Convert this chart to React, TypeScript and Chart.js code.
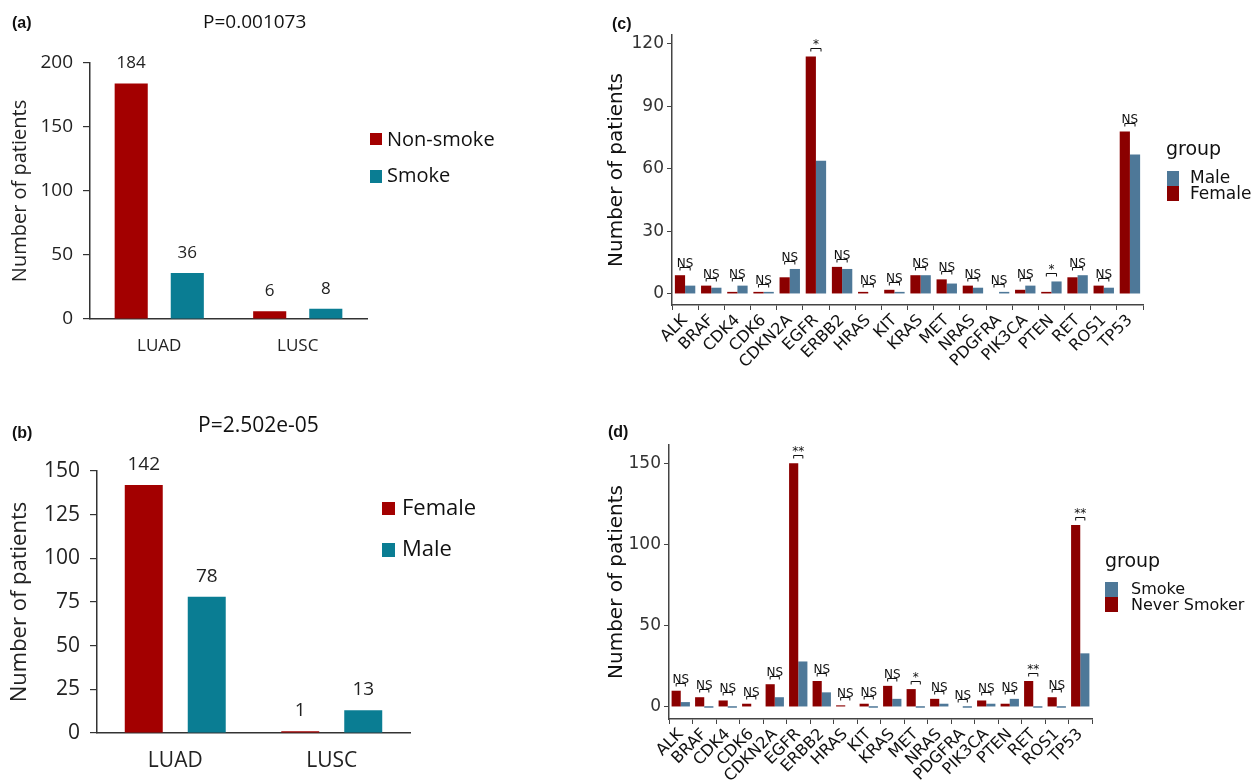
import React, { useEffect, useRef } from "react";
import { Chart, registerables } from "chart.js";
Chart.register(...registerables);

// ---------- data ----------
const histCategories = ["LUAD", "LUSC"];
const nonSmoke = [184, 6];
const smoke = [36, 8];
const female = [142, 1];
const male = [78, 13];
const titleA = "P=0.001073";
const titleB = "P=2.502e-05";

const genes = ["ALK", "BRAF", "CDK4", "CDK6", "CDKN2A", "EGFR", "ERBB2", "HRAS", "KIT", "KRAS", "MET", "NRAS", "PDGFRA", "PIK3CA", "PTEN", "RET", "ROS1", "TP53"];
const femaleGene = [9, 4, 1, 1, 8, 114, 13, 1, 2, 9, 7, 4, null, 2, 1, 8, 4, 78];
const maleGene = [4, 3, 4, 1, 12, 64, 12, null, 1, 9, 5, 3, 1, 4, 6, 9, 3, 67];
const sigC = ["NS", "NS", "NS", "NS", "NS", "*", "NS", "NS", "NS", "NS", "NS", "NS", "NS", "NS", "*", "NS", "NS", "NS"];
const neverSmokerGene = [10, 6, 4, 2, 14, 150, 16, 1, 2, 13, 11, 5, null, 4, 2, 16, 6, 112];
const smokeGene = [3, 0, 0, null, 6, 28, 9, null, 0, 5, 0, 2, 0, 2, 5, 0, 0, 33];
const sigD = ["NS", "NS", "NS", "NS", "NS", "**", "NS", "NS", "NS", "NS", "*", "NS", "NS", "NS", "NS", "**", "NS", "**"];
const ticksC = [0, 30, 60, 90, 120];
const ticksD = [0, 50, 100, 150];

// ---------- styles ----------
const RED_AB = "#A30000";
const TEAL_AB = "#0A7D93";
const RED_CD = "#8B0000";
const BLUE_CD = "#4E7898";
const SANS_AB = "'Open Sans', sans-serif";
const SANS_CD = "'DejaVu Sans', sans-serif";

const valueLabelPlugin = {
  id: "valueLabels",
  afterDatasetsDraw(chart: any, _a: any, opts: any) {
    const ctx = chart.ctx;
    ctx.save();
    ctx.fillStyle = "#222";
    ctx.font = `${opts.size}px ${SANS_AB}`;
    ctx.textAlign = "center";
    ctx.textBaseline = "alphabetic";
    chart.data.datasets.forEach((ds: any, di: number) => {
      const meta = chart.getDatasetMeta(di);
      meta.data.forEach((bar: any, i: number) => {
        ctx.fillText(String(ds.data[i]), bar.x, bar.y - opts.offset);
      });
    });
    ctx.restore();
  },
};

const sigPlugin = {
  id: "sig",
  afterDatasetsDraw(chart: any, _a: any, opts: any) {
    const ctx = chart.ctx;
    const y = chart.scales.y;
    const m0 = chart.getDatasetMeta(0);
    const m1 = chart.getDatasetMeta(1);
    ctx.save();
    ctx.strokeStyle = "#111";
    ctx.fillStyle = "#111";
    ctx.lineWidth = 1;
    ctx.font = `${opts.size}px ${SANS_CD}`;
    ctx.textAlign = "center";
    ctx.textBaseline = "alphabetic";
    (opts.labels as string[]).forEach((lab, i) => {
      const v0 = chart.data.datasets[0].data[i] ?? 0;
      const v1 = chart.data.datasets[1].data[i] ?? 0;
      const top = y.getPixelForValue(Math.max(v0, v1));
      const x0 = m0.data[i].x;
      const x1 = m1.data[i].x;
      const by = Math.round(top - opts.gap) + 0.5;
      ctx.beginPath();
      ctx.moveTo(x0, by + 3);
      ctx.lineTo(x0, by);
      ctx.lineTo(x1, by);
      ctx.lineTo(x1, by + 3);
      ctx.stroke();
      ctx.fillText(lab, (x0 + x1) / 2, by - 1);
    });
    ctx.restore();
  },
};

function abConfig(
  labels: string[], d1: number[], d2: number[], n1: string, n2: string,
  o: { top: number; right: number; xH: number; yW: number; max: number; step: number; tick: number; cat: number; title: number; titlePad: number; val: number; xPad: number; catPct: number; barPct: number }
): any {
  return {
    type: "bar",
    data: {
      labels,
      datasets: [
        { label: n1, data: d1, backgroundColor: RED_AB, categoryPercentage: o.catPct, barPercentage: o.barPct },
        { label: n2, data: d2, backgroundColor: TEAL_AB, categoryPercentage: o.catPct, barPercentage: o.barPct },
      ],
    },
    options: {
      responsive: false,
      animation: false,
      events: [],
      layout: { padding: { left: 0, top: o.top, right: o.right, bottom: 0 } },
      plugins: { legend: { display: false }, tooltip: { enabled: false }, valueLabels: { size: o.val, offset: 15 } },
      scales: {
        x: {
          grid: { display: false },
          border: { color: "#333", width: 1.5 },
          ticks: { color: "#222", font: { family: SANS_AB, size: o.cat }, padding: o.xPad },
          afterFit: (s: any) => { s.height = o.xH; },
        },
        y: {
          min: 0,
          max: o.max,
          ticks: { stepSize: o.step, color: "#222", font: { family: SANS_AB, size: o.tick }, padding: 10 },
          grid: { drawOnChartArea: false, tickLength: 7, color: "#333", lineWidth: 1.2 },
          border: { color: "#333", width: 1.5 },
          title: { display: true, text: "Number of patients", color: "#222", font: { family: SANS_AB, size: o.title }, padding: { top: o.titlePad, bottom: 0 } },
          afterFit: (s: any) => { s.width = o.yW; },
        },
      },
    },
    plugins: [valueLabelPlugin],
  };
}

function cdConfig(
  d1: (number | null)[], d2: (number | null)[], n1: string, n2: string, sig: string[], tickVals: number[],
  o: { top: number; right: number; xH: number; yW: number; min: number; max: number; minBar: number }
): any {
  return {
    type: "bar",
    data: {
      labels: genes,
      datasets: [
        { label: n1, data: d1, backgroundColor: RED_CD, categoryPercentage: 0.78, barPercentage: 1, minBarLength: o.minBar },
        { label: n2, data: d2, backgroundColor: BLUE_CD, categoryPercentage: 0.78, barPercentage: 1, minBarLength: o.minBar },
      ],
    },
    options: {
      responsive: false,
      animation: false,
      events: [],
      layout: { padding: { left: 0, top: o.top, right: o.right, bottom: 0 } },
      plugins: { legend: { display: false }, tooltip: { enabled: false }, sig: { labels: sig, gap: 8, size: 12 } },
      scales: {
        x: {
          grid: { display: true, drawOnChartArea: false, tickLength: 5, color: "#444", lineWidth: 1 },
          border: { color: "#444", width: 1.5 },
          ticks: { color: "#111", font: { family: SANS_CD, size: 16 }, maxRotation: 45, minRotation: 45, autoSkip: false, padding: 1 },
          afterFit: (s: any) => { s.height = o.xH; },
        },
        y: {
          min: o.min,
          max: o.max,
          afterBuildTicks: (s: any) => { s.ticks = tickVals.map((v) => ({ value: v })); },
          ticks: { color: "#333", font: { family: SANS_CD, size: 17 }, padding: 3 },
          grid: { drawOnChartArea: false, tickLength: 5, color: "#444", lineWidth: 1 },
          border: { color: "#444", width: 1.5 },
          title: { display: true, text: "Number of patients", color: "#111", font: { family: SANS_CD, size: 20 }, padding: { top: 5, bottom: 0 } },
          afterFit: (s: any) => { s.width = o.yW; },
        },
      },
    },
    plugins: [sigPlugin],
  };
}

function ChartCanvas({ left, top, width, height, config }: { left: number; top: number; width: number; height: number; config: () => any }) {
  const ref = useRef<HTMLCanvasElement | null>(null);
  useEffect(() => {
    if (!ref.current) return;
    const chart = new Chart(ref.current, config());
    return () => chart.destroy();
  }, []);
  return (
    <canvas
      ref={ref}
      width={width}
      height={height}
      style={{ position: "absolute", left, top, width, height, display: "block" }}
    />
  );
}

function Txt({ left, top, size, family, bold, children }: any) {
  return (
    <div style={{ position: "absolute", left, top, fontSize: size, fontFamily: family, fontWeight: bold ? 700 : 400, lineHeight: 1, whiteSpace: "nowrap", color: "#111" }}>
      {children}
    </div>
  );
}

function Sq({ left, top, w, h, color }: any) {
  return <div style={{ position: "absolute", left, top, width: w, height: h, background: color }} />;
}

export default function App() {
  return (
    <div style={{ position: "fixed", left: 0, top: 0, width: 1259, height: 783, background: "#fff", overflow: "hidden" }}>
      <ChartCanvas left={0} top={0} width={600} height={390}
        config={() => abConfig(histCategories, nonSmoke, smoke, "Non-smoke", "Smoke",
          { top: 63, right: 233, xH: 71, yW: 90, max: 200, step: 50, tick: 19, cat: 17, title: 20, titlePad: 8, val: 17, xPad: 9, catPct: 0.81, barPct: 0.59 })} />
      <ChartCanvas left={0} top={390} width={600} height={393}
        config={() => abConfig(histCategories, female, male, "Female", "Male",
          { top: 81, right: 190, xH: 50, yW: 97, max: 150, step: 25, tick: 21, cat: 21, title: 22, titlePad: 7, val: 19, xPad: 7, catPct: 0.805, barPct: 0.603 })} />
      <ChartCanvas left={600} top={0} width={659} height={390}
        config={() => cdConfig(femaleGene, maleGene, "Female", "Male", sigC, ticksC,
          { top: 35, right: 116, xH: 85, yW: 72, min: -5.3, max: 124.3, minBar: 0 })} />
      <ChartCanvas left={600} top={390} width={659} height={393}
        config={() => cdConfig(neverSmokerGene, smokeGene, "Never Smoker", "Smoke", sigD, ticksD,
          { top: 55, right: 167, xH: 64, yW: 69, min: -7.4, max: 161.2, minBar: 1.5 })} />

      {/* panel labels */}
      <Txt left={12} top={15} size={16} family="'Liberation Sans', Arial, sans-serif" bold>(a)</Txt>
      <Txt left={12} top={425} size={16} family="'Liberation Sans', Arial, sans-serif" bold>(b)</Txt>
      <Txt left={612} top={16} size={16} family="'Liberation Sans', Arial, sans-serif" bold>(c)</Txt>
      <Txt left={608} top={424} size={16} family="'Liberation Sans', Arial, sans-serif" bold>(d)</Txt>

      {/* titles */}
      <Txt left={203} top={12} size={19} family={SANS_AB}>{titleA}</Txt>
      <Txt left={198} top={414} size={21} family={SANS_AB}>{titleB}</Txt>

      {/* legend a */}
      <Sq left={370} top={133} w={12} h={12} color={RED_AB} />
      <Txt left={387} top={129} size={20} family={SANS_AB}>Non-smoke</Txt>
      <Sq left={370} top={170} w={12} h={13} color={TEAL_AB} />
      <Txt left={387} top={165} size={20} family={SANS_AB}>Smoke</Txt>

      {/* legend b */}
      <Sq left={382} top={502} w={13} h={13} color={RED_AB} />
      <Txt left={402} top={495} size={22} family={SANS_AB}>Female</Txt>
      <Sq left={382} top={543} w={13} h={14} color={TEAL_AB} />
      <Txt left={402} top={536} size={22} family={SANS_AB}>Male</Txt>

      {/* legend c */}
      <Txt left={1166} top={139} size={19} family={SANS_CD}>group</Txt>
      <Sq left={1167} top={171} w={12} h={15} color={BLUE_CD} />
      <Sq left={1167} top={186} w={12} h={15} color={RED_CD} />
      <Txt left={1190} top={169} size={17} family={SANS_CD}>Male</Txt>
      <Txt left={1190} top={185} size={17} family={SANS_CD}>Female</Txt>

      {/* legend d */}
      <Txt left={1105} top={551} size={19} family={SANS_CD}>group</Txt>
      <Sq left={1105} top={582} w={13} h={15} color={BLUE_CD} />
      <Sq left={1105} top={597} w={13} h={15} color={RED_CD} />
      <Txt left={1131} top={581} size={16} family={SANS_CD}>Smoke</Txt>
      <Txt left={1131} top={597} size={16} family={SANS_CD}>Never Smoker</Txt>
    </div>
  );
}
